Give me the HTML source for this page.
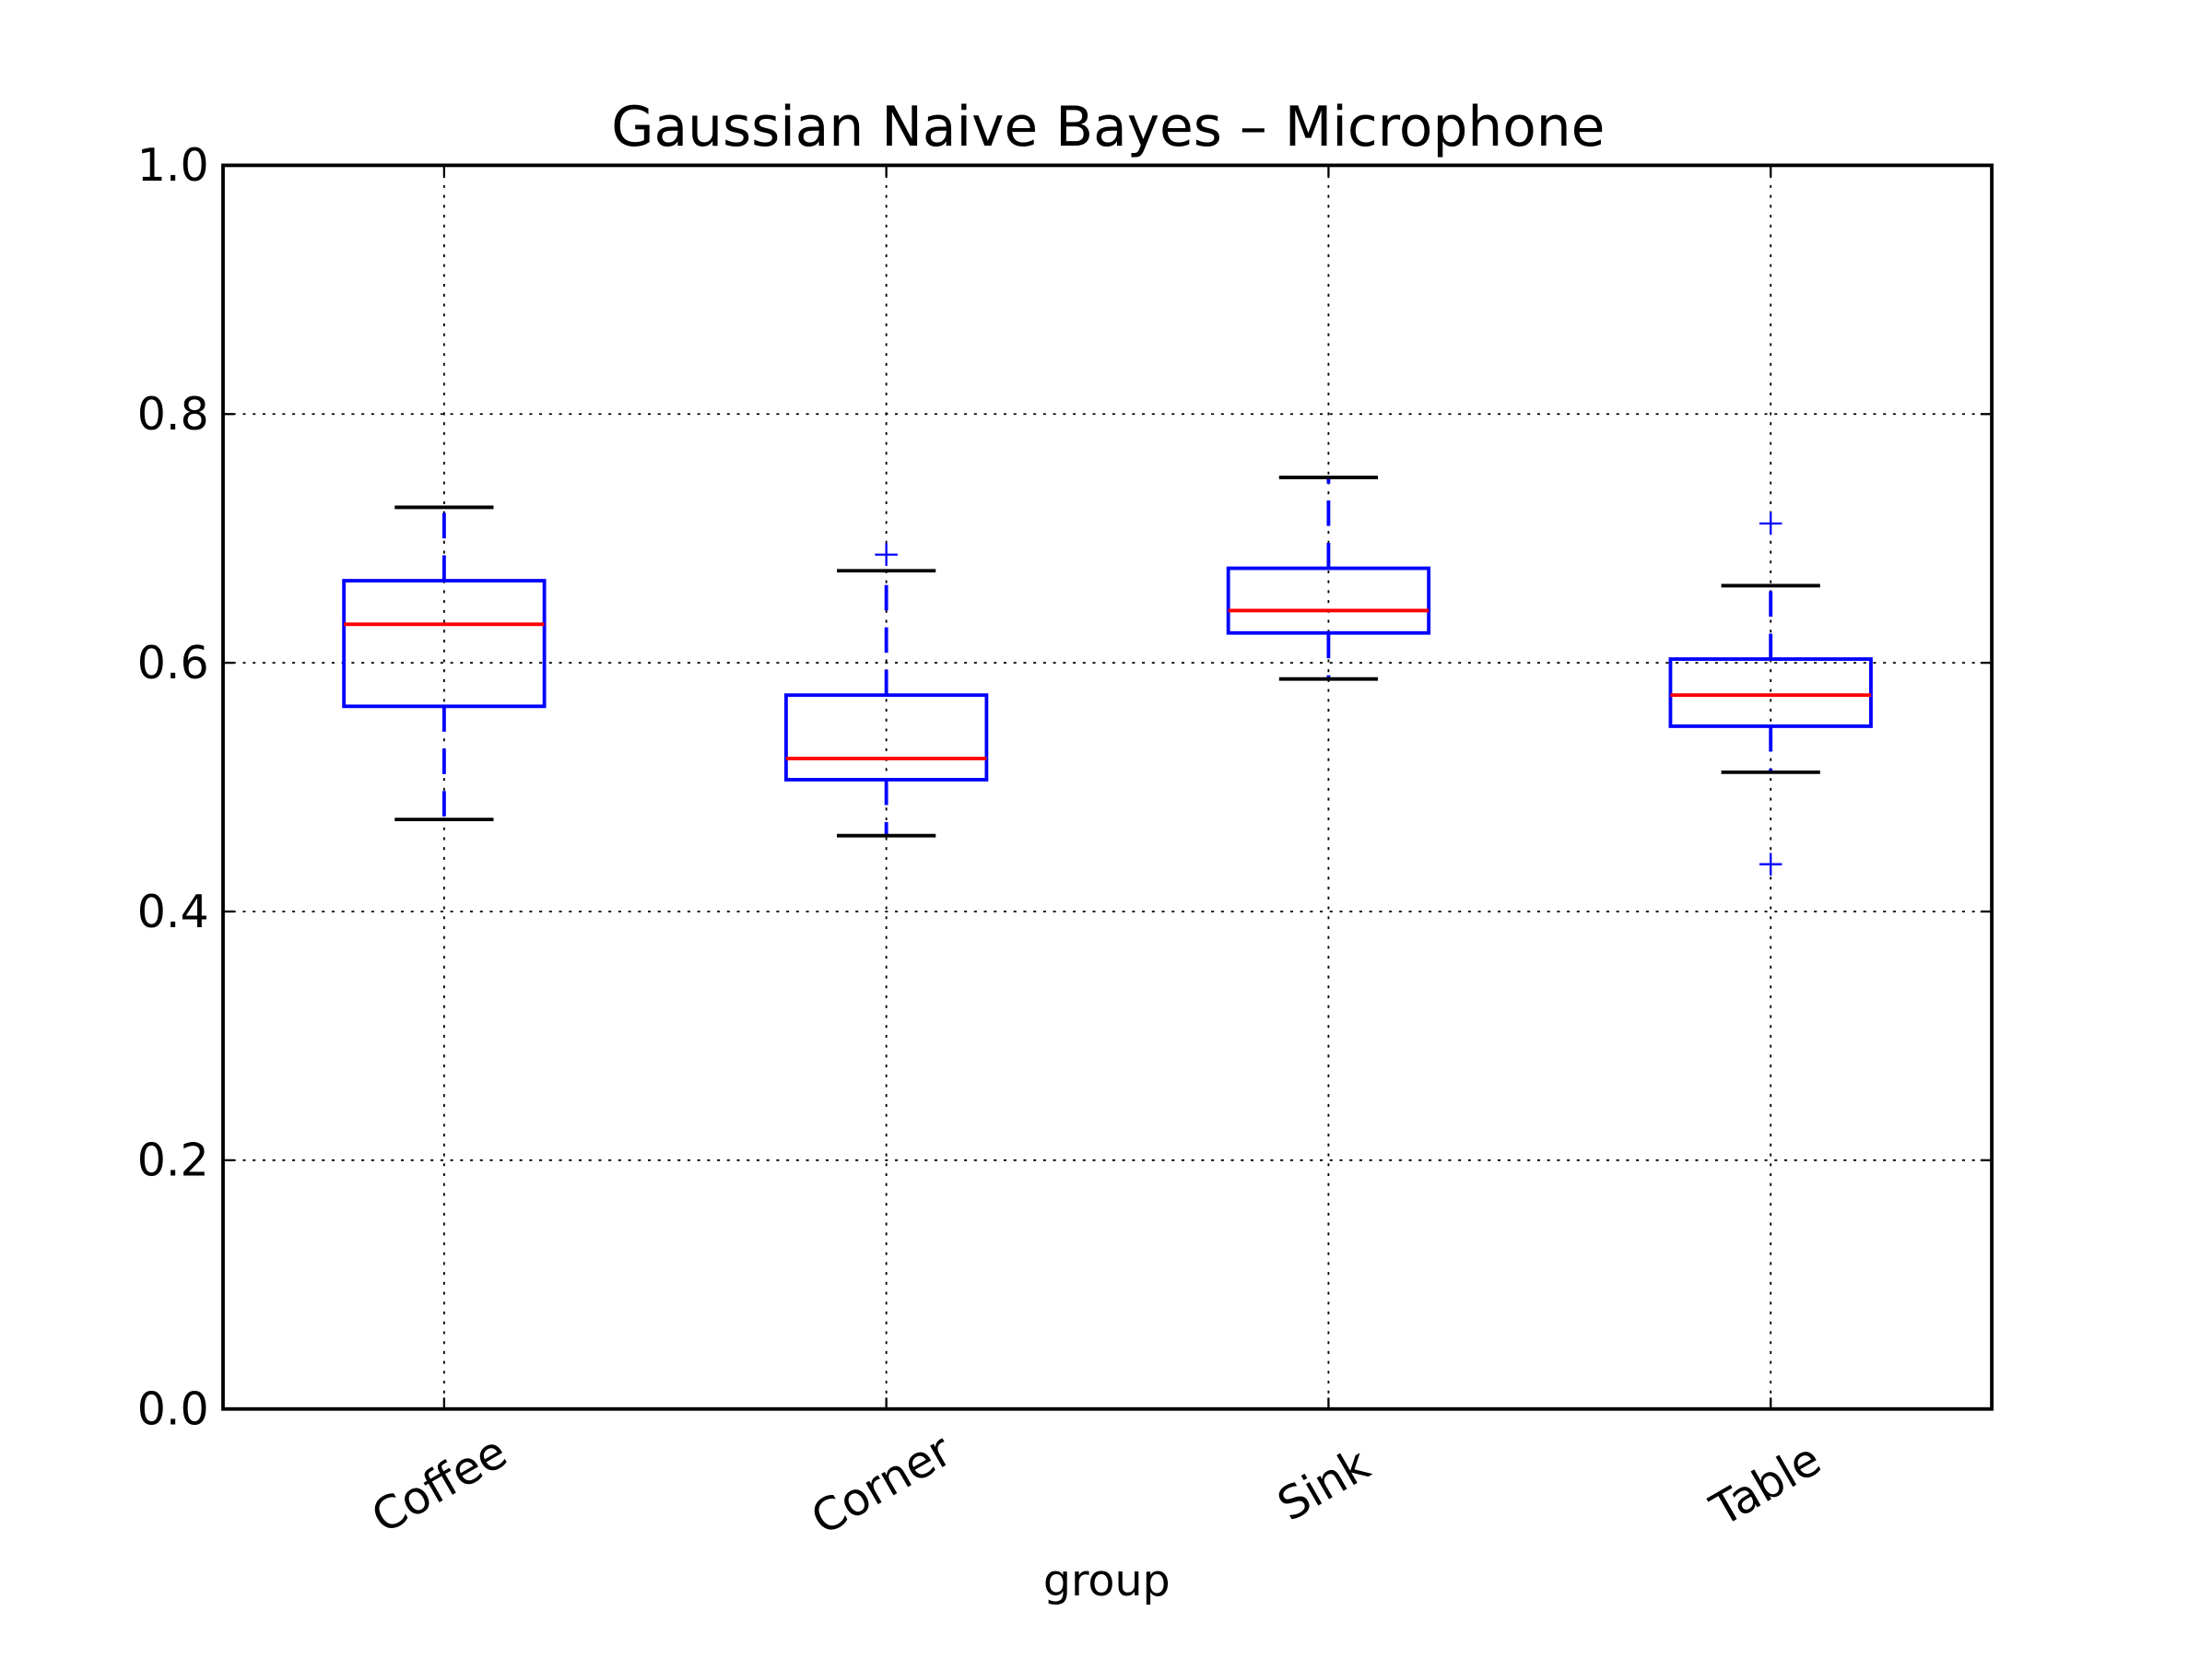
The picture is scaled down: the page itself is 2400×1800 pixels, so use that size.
<!DOCTYPE html>
<html><head><meta charset="utf-8"><style>
html,body{margin:0;padding:0;background:#fff;}
svg{display:block;}
text{font-family:"DejaVu Sans","Liberation Sans",sans-serif;fill:#000;}
</style></head><body>
<svg id="chart" width="2400" height="1800" viewBox="0 0 1567 1175" xmlns="http://www.w3.org/2000/svg">
<rect width="1567" height="1175" fill="#fff"/>
<text x="785" y="103" font-size="39" text-anchor="middle">Gaussian Naive Bayes – Microphone</text>
<g id="grid"></g>
<g id="boxes"></g>
<rect x="158" y="117" width="1253" height="881" fill="none" stroke="#000" stroke-width="2.5"/>
<g id="axes"></g>
<text x="784" y="1130" font-size="31" text-anchor="middle">group</text>
</svg>
<script>
const categories = ["Coffee","Corner","Sink","Table"];
const whiskerLow = [0.474,0.461,0.587,0.512];
const q1 = [0.565,0.506,0.624,0.549];
const median = [0.631,0.523,0.642,0.574];
const q3 = [0.666,0.574,0.676,0.603];
const whiskerHigh = [0.725,0.674,0.749,0.662];
const fliers = [[],[0.687],[],[0.712,0.438]];
const yTicks = [0.0,0.2,0.4,0.6,0.8,1.0];
const yTickLabels = ["0.0","0.2","0.4","0.6","0.8","1.0"];

const L=158,R=1411,T=117,B=998;
const ns="http://www.w3.org/2000/svg";
function y(v){return B-(B-T)*v;}
function x(i){return L+(R-L)*(i+0.5)/categories.length;}
function mk(tag,attrs,parent){const e=document.createElementNS(ns,tag);for(const k in attrs)e.setAttribute(k,attrs[k]);parent.appendChild(e);return e;}
const grid=document.getElementById('grid'),boxes=document.getElementById('boxes'),axes=document.getElementById('axes');
yTicks.forEach((v,i)=>{
  if(v>0&&v<1){const g=mk('line',{x1:L,x2:R,y1:y(v),y2:y(v),stroke:'#000','stroke-width':1.2,'stroke-dasharray':'2,5'},grid);
  
  }
  const t=mk('text',{x:L-10,y:y(v)+11,'font-size':32,'text-anchor':'end'},axes);t.textContent=yTickLabels[i];
  
  
  mk('line',{x1:L,x2:L+8,y1:y(v),y2:y(v),stroke:'#000','stroke-width':1.5},axes);
  mk('line',{x1:R,x2:R-8,y1:y(v),y2:y(v),stroke:'#000','stroke-width':1.5},axes);
});
categories.forEach((c,i)=>{
  const cx=x(i);
  const g=mk('line',{x1:cx,x2:cx,y1:T,y2:B,stroke:'#000','stroke-width':1.2,'stroke-dasharray':'2,5'},grid);
  
  
  mk('line',{x1:cx,x2:cx,y1:B,y2:B-8,stroke:'#000','stroke-width':1.5},axes);
  mk('line',{x1:cx,x2:cx,y1:T,y2:T+8,stroke:'#000','stroke-width':1.5},axes);
  const t=mk('text',{x:0,y:0,'font-size':32,'text-anchor':'middle',transform:`translate(${cx+2},${B+63}) rotate(-30)`},axes);
  t.textContent=c;
  
  
  const grp=mk('g',{},boxes);
  
  
  mk('line',{x1:cx,x2:cx,y1:y(q3[i]),y2:y(whiskerHigh[i]),stroke:'#0000ff','stroke-width':2.5,'stroke-dasharray':'18,12'},grp);
  mk('line',{x1:cx,x2:cx,y1:y(q1[i]),y2:y(whiskerLow[i]),stroke:'#0000ff','stroke-width':2.5,'stroke-dasharray':'18,12'},grp);
  mk('line',{x1:cx-35,x2:cx+35,y1:y(whiskerHigh[i]),y2:y(whiskerHigh[i]),stroke:'#000','stroke-width':2.5},grp);
  mk('line',{x1:cx-35,x2:cx+35,y1:y(whiskerLow[i]),y2:y(whiskerLow[i]),stroke:'#000','stroke-width':2.5},grp);
  mk('rect',{x:cx-71,y:y(q3[i]),width:142,height:y(q1[i])-y(q3[i]),fill:'none',stroke:'#0000ff','stroke-width':2.5},grp);
  mk('line',{x1:cx-71,x2:cx+71,y1:y(median[i]),y2:y(median[i]),stroke:'#ff0000','stroke-width':2.5},grp);
  fliers[i].forEach(f=>{
    mk('line',{x1:cx-8,x2:cx+8,y1:y(f),y2:y(f),stroke:'#0000ff','stroke-width':1.5},grp);
    mk('line',{x1:cx,x2:cx,y1:y(f)-8,y2:y(f)+8,stroke:'#0000ff','stroke-width':1.5},grp);
  });
});
</script>
</body></html>
